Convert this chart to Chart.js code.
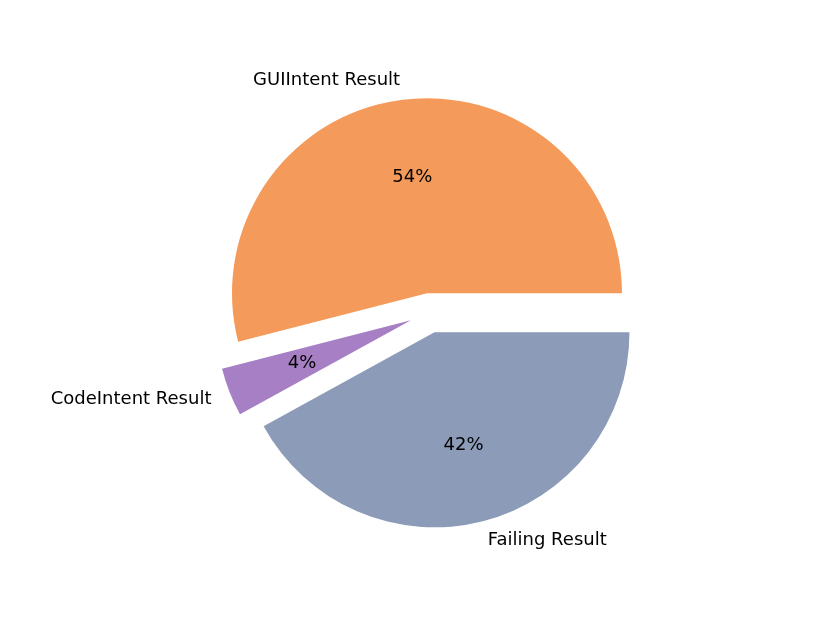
<!DOCTYPE html>
<html>
<head>
<meta charset="utf-8">
<script src="https://cdn.jsdelivr.net/npm/chart.js@4.4.1/dist/chart.umd.min.js"></script>
<style>
html,body{margin:0;padding:0;background:#fff;}
#wrap{width:830px;height:623px;position:relative;}
</style>
</head>
<body>
<div id="wrap"><canvas id="c" width="830" height="623"></canvas></div>
<script>
// Data (matplotlib order: counter-clockwise from 3 o'clock)
const categories = ["GUIIntent Result", "CodeIntent Result", "Failing Result"];
const values = [54, 4, 42];
const percentLabels = ["54%", "4%", "42%"];
const colors = ["#F49A5A", "#A67FC4", "#8C9BB8"];

// Chart.js draws clockwise, so reverse the order to mimic matplotlib's CCW layout
const order = [2, 1, 0];
const R = 195;          // pie radius
const EXPLODE = 20;     // px shift of each slice along its bisector
const FONT = '18px "DejaVu Sans", sans-serif';

const pieExplode = {
  id: 'pieExplode',
  afterDatasetsUpdate(chart) {
    const meta = chart.getDatasetMeta(0);
    meta.data.forEach(arc => {
      const mid = (arc.startAngle + arc.endAngle) / 2;
      arc.x += Math.cos(mid) * EXPLODE;
      arc.y += Math.sin(mid) * EXPLODE;
      arc.outerRadius = R;
    });
  },
  afterDatasetsDraw(chart) {
    const ctx = chart.ctx;
    const meta = chart.getDatasetMeta(0);
    ctx.save();
    ctx.font = FONT;
    ctx.fillStyle = '#000';
    ctx.textBaseline = 'middle';
    meta.data.forEach((arc, i) => {
      const idx = order[i];
      const mid = (arc.startAngle + arc.endAngle) / 2;
      const cx = arc.x, cy = arc.y;
      // category label at 1.1 R
      const lx = cx + Math.cos(mid) * R * 1.1;
      const ly = cy + Math.sin(mid) * R * 1.1;
      ctx.textAlign = Math.cos(mid) >= 0 ? 'left' : 'right';
      ctx.fillText(categories[idx], lx, ly);
      // percentage at 0.6 R
      const px = cx + Math.cos(mid) * R * 0.6;
      const py = cy + Math.sin(mid) * R * 0.6;
      ctx.textAlign = 'center';
      ctx.fillText(percentLabels[idx], px, py);
    });
    ctx.restore();
  }
};

new Chart(document.getElementById('c'), {
  type: 'pie',
  data: {
    labels: order.map(i => categories[i]),
    datasets: [{
      data: order.map(i => values[i]),
      backgroundColor: order.map(i => colors[i]),
      borderWidth: 0,
      offset: 0,
      hoverOffset: 0
    }]
  },
  options: {
    responsive: false,
    animation: false,
    rotation: 90,
    radius: R,
    layout: { padding: { left: 29, top: 3, right: 0, bottom: 0 } },
    plugins: { legend: { display: false }, tooltip: { enabled: false } },
    events: []
  },
  plugins: [pieExplode]
});
</script>
</body>
</html>
